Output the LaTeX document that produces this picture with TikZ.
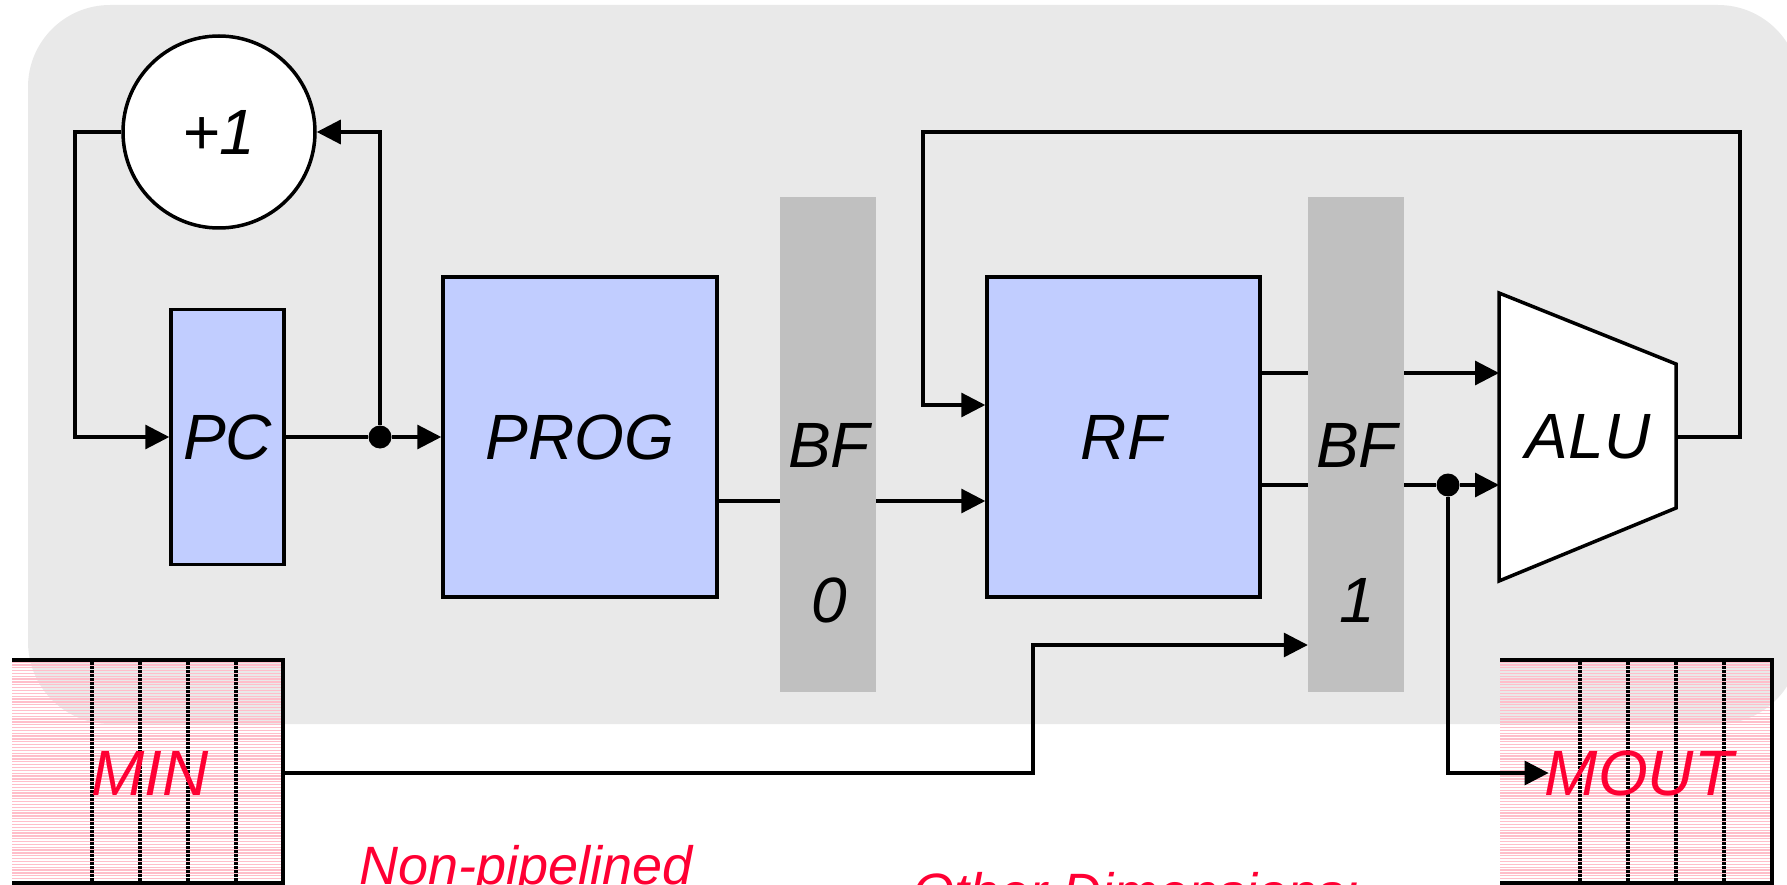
\documentclass[tikz,border=0pt]{standalone}
\usepackage{fontspec}
\setmainfont{Liberation Sans}
\usetikzlibrary{arrows.meta,calc}

\definecolor{panel}{RGB}{233,233,233}
\definecolor{blockblue}{RGB}{193,205,255}
\definecolor{bufgray}{RGB}{192,192,192}
\definecolor{memred}{RGB}{255,0,51}
\definecolor{hatchpink}{RGB}{255,190,202}

\newcommand\labelfont{\fontsize{64}{72}\selectfont\itshape}
\newcommand\notefont{\fontsize{54}{60}\selectfont\itshape}

\tikzset{
  wire/.style={line width=3.2pt, black},
  arr/.style={wire, -{Triangle[length=24pt,width=24pt]}},
  block/.style={draw=black, line width=3.5pt, fill=blockblue, inner sep=0pt, font=\labelfont},
  buffer/.style={fill=bufgray, inner sep=0pt, minimum width=96pt, minimum height=495pt},
  lbl/.style={font=\labelfont, inner sep=0pt},
  memlbl/.style={font=\labelfont, text=memred, inner sep=0pt},
  note/.style={font=\notefont, text=memred, inner sep=0pt, anchor=base west},
  joint/.style={circle, fill=black, minimum size=23pt, inner sep=0pt},
  hatch/.style={hatchpink, line width=1.3pt},
  divider/.style={line width=3.6pt, dash pattern=on 3pt off 1pt},
  memedge/.style={line width=3.6pt},
}

\begin{document}
\begin{tikzpicture}[x=1pt, y=-1pt]
  \useasboundingbox (0,0) rectangle (1787,885);
  \clip (0,0) rectangle (1787,885);

  % datapath panel
  \fill[panel, rounded corners=82pt] (28,5) rectangle (1800,724);

  % memories: input and output
  \foreach \yy in {662,664.85,...,882} {
    \draw[hatch] (12,\yy) -- (283,\yy);
    \draw[hatch] (1500,\yy) -- (1772,\yy);
  }
  \foreach \xx in {92,140,188,236,1580,1628,1676,1724}
    \draw[divider] (\xx,662) -- (\xx,883);
  \draw[memedge] (12,660) -- (283,660) -- (283,883) -- (12,883);
  \draw[memedge] (1500,660) -- (1772,660) -- (1772,883) -- (1500,883);
  \node[inner sep=0pt, minimum width=271pt, minimum height=223pt] (MIN) at (147.5,773) {};
  \node[memlbl] (mintext) at (150,773) {MIN};
  \node[memlbl] (mouttext) at (1639,773) {MOUT};

  % blocks
  \node[circle, draw=black, line width=3.5pt, fill=white, minimum size=192pt, inner sep=0pt, font=\labelfont] (inc) at (219,132) {+1};
  \node[block, minimum width=113pt, minimum height=255pt] (PC) at (227.5,437) {PC};
  \node[block, minimum width=274pt, minimum height=320pt] (PROG) at (580,437) {PROG};
  \node[block, minimum width=273pt, minimum height=320pt] (RF) at (1123.5,437) {RF};

  % pipeline buffers
  \node[buffer] (BF0) at (828,444.5) {};
  \node[lbl] (bf0name) at (829,445) {BF};
  \node[lbl] (bf0num) at (829,600) {0};
  \node[buffer] (BF1) at (1356,444.5) {};
  \node[lbl] (bf1name) at (1357,445) {BF};
  \node[lbl] (bf1num) at (1357,600) {1};

  % ALU
  \draw[line width=3.5pt, fill=white] (1499,293) -- (1676,364) -- (1676,508) -- (1499,581) -- cycle;
  \node[lbl] (ALU) at (1588,437) {ALU};
  \coordinate (alu-a) at (1499,373);
  \coordinate (alu-b) at (1499,485);
  \coordinate (alu-o) at (1676,437);

  % wire levels and bends
  \coordinate (progout) at (0,501);
  \coordinate (rfout1) at (0,373);
  \coordinate (rfout2) at (0,485);
  \coordinate (loopL) at (75,437);
  \coordinate (fbR) at (1740,132);
  \coordinate (fbL) at (923,405);
  \coordinate (minbend) at (1033,645);

  % fetch loop
  \node[joint] (j1) at (380,437) {};
  \draw[wire] (PC.east) -- (j1);
  \draw[arr] (j1) -- (PROG.west);
  \draw[arr] (j1) |- (inc.east);
  \draw[arr] (inc.west) -| (loopL) -- (PC.west);

  % instruction path
  \draw[wire] (PROG.east |- progout) -- (BF0.west |- progout);
  \draw[arr] (BF0.east |- progout) -- (RF.west |- progout);

  % operands
  \draw[wire] (RF.east |- rfout1) -- (BF1.west |- rfout1);
  \draw[arr] (BF1.east |- rfout1) -- (alu-a);
  \draw[wire] (RF.east |- rfout2) -- (BF1.west |- rfout2);
  \node[joint] (j2) at (1448,485) {};
  \draw[wire] (BF1.east |- rfout2) -- (j2);
  \draw[arr] (j2) -- (alu-b);

  % write back
  \draw[arr] (alu-o) -| (fbR) -| (fbL) -- (RF.west |- fbL);

  % memory ports
  \draw[arr] (MIN.east) -| (minbend) -- (BF1.west |- minbend);
  \draw[arr] (j2) |- ($(mouttext.west)+(4,0)$);

  % notes
  \node[note] (np) at (359,884) {Non-pipelined};
  \node[note] (od) at (912,911) {Other Dimensions:};
\end{tikzpicture}
\end{document}
